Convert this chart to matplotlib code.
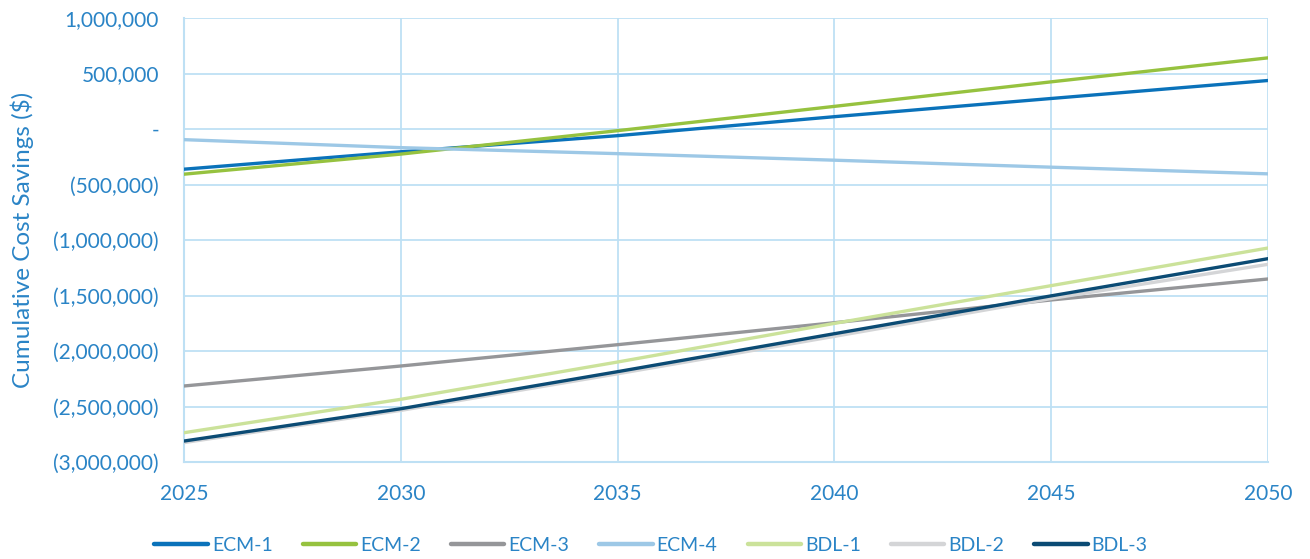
import matplotlib
matplotlib.use("Agg")
import matplotlib.pyplot as plt
from matplotlib.ticker import FuncFormatter, MultipleLocator

# Years on the x axis (5-year reads from the chart)
years = [2025, 2030, 2035, 2040, 2045, 2050]

# Cumulative cost savings ($) per scenario
ecm_1 = [-362000, -205000, -60000, 111000, 275000, 437000]
ecm_2 = [-407000, -226000, -15000, 204000, 425000, 641000]
ecm_3 = [-2315000, -2135000, -1943000, -1745000, -1540000, -1351000]
ecm_4 = [-96000, -168000, -222000, -281000, -344000, -404000]
bdl_1 = [-2736000, -2435000, -2099000, -1751000, -1411000, -1072000]
bdl_2 = [-2825000, -2535000, -2205000, -1868000, -1527000, -1219000]
bdl_3 = [-2811000, -2520000, -2186000, -1844000, -1503000, -1168000]

labels = ["ECM-1", "ECM-2", "ECM-3", "ECM-4", "BDL-1", "BDL-2", "BDL-3"]
colors = ["#0A72BA", "#96C23F", "#959699", "#9DC8E6", "#CBE29A", "#D4D5D7", "#0B4B74"]

text_color = "#2A84C6"
grid_color = "#BEE0F4"

plt.rcParams['font.family'] = ['Lato', 'DejaVu Sans']

fig = plt.figure(figsize=(13.1, 5.59), dpi=100)
ax = fig.add_axes([0.1405, 0.1735, 0.8275, 0.7943])

series = [ecm_1, ecm_2, ecm_3, ecm_4, bdl_1, bdl_2, bdl_3]
# draw order: BDL-2 under BDL-3
order = [3, 2, 4, 5, 6, 0, 1]
lines = {}
for i in order:
    ln, = ax.plot(years, series[i], color=colors[i], lw=2.4, label=labels[i],
                  solid_capstyle='round', zorder=3 + i * 0.01)
    lines[i] = ln

ax.set_xlim(2025, 2050)
ax.set_ylim(-3000000, 1000000)
ax.xaxis.set_major_locator(MultipleLocator(5))
ax.yaxis.set_major_locator(MultipleLocator(500000))


def accounting(v, pos):
    if abs(v) < 1:
        return "-"
    if v < 0:
        return f"({abs(v):,.0f})"
    return f"{v:,.0f}"


ax.yaxis.set_major_formatter(FuncFormatter(accounting))
ax.grid(True, color=grid_color, lw=1.3, zorder=0)
for s in ax.spines.values():
    s.set_visible(False)
ax.spines['left'].set_visible(True)
ax.spines['bottom'].set_visible(True)
ax.spines['left'].set_color(grid_color)
ax.spines['bottom'].set_color(grid_color)
ax.spines['left'].set_linewidth(1.5)
ax.spines['bottom'].set_linewidth(1.5)

ax.tick_params(axis='both', length=0, colors=text_color, labelsize=15)
ax.tick_params(axis='x', pad=16)
ax.tick_params(axis='y', pad=18)
ax.set_ylabel("Cumulative Cost Savings ($)", color=text_color, fontsize=17.5,
              va='center')
ax.yaxis.set_label_coords(-0.149, 0.5)

handles = [lines[i] for i in range(7)]
leg = fig.legend(handles, labels, loc='center', bbox_to_anchor=(0.497, 0.024),
                 ncol=7, frameon=False, fontsize=14, handlelength=2.75,
                 handletextpad=0.2, columnspacing=1.55)
for t in leg.get_texts():
    t.set_color(text_color)
for h in leg.legend_handles:
    h.set_linewidth(3.2)

fig.savefig("out.png", dpi=100)
